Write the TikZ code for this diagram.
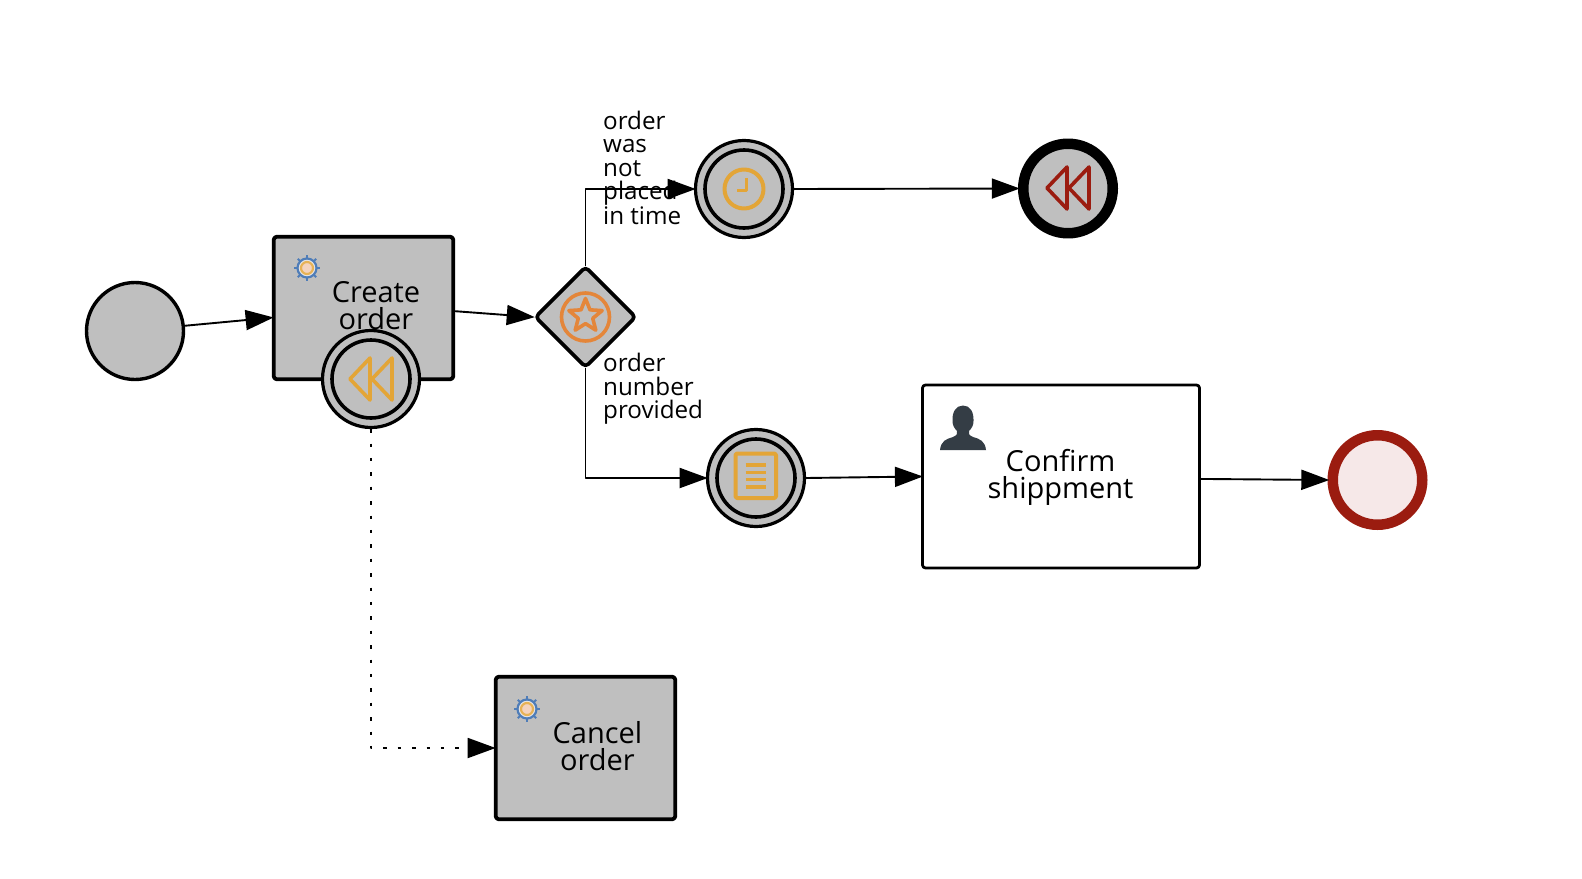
\documentclass[tikz,border=0pt]{standalone}
\usepackage{fontspec}
\setmainfont{Open Sans}
\usetikzlibrary{arrows.meta,shapes.geometric}
\definecolor{bpGray}{HTML}{BFBFBF}
\definecolor{bpGold}{HTML}{E3A537}
\definecolor{bpOrange}{HTML}{E4863A}
\definecolor{bpRed}{HTML}{9B1C10}
\definecolor{bpPink}{HTML}{F6E8E8}
\definecolor{bpSlate}{HTML}{343D45}
\definecolor{bpBlue}{HTML}{4F7DB8}
\tikzset{
 bpmn/.style={line join=round,text=black},
 task/.style={rectangle,draw=black,fill=bpGray,line width=3.8pt,rounded corners=3pt,inner sep=0pt,minimum width=179.5pt,minimum height=142.5pt},
 humantask/.style={task,fill=white,line width=2.8pt,minimum width=277pt,minimum height=183pt},
 tasktext/.style={font=\fontsize{29}{27}\selectfont,align=center,inner sep=0pt},
 flowlabel/.style={font=\fontsize{24.2}{23.5}\selectfont,align=left,anchor=west,inner sep=0pt},
 startevent/.style={circle,draw=black,fill=bpGray,line width=3.4pt,inner sep=0pt,minimum size=97pt},
 midevent/.style={startevent,line width=3.2pt},
 innerring/.style={circle,draw=black,line width=3.6pt,inner sep=0pt,minimum size=78pt},
 compevent/.style={startevent,line width=10.5pt,minimum size=89.5pt},
 endevent/.style={startevent,draw=bpRed,fill=bpPink,line width=10.5pt,minimum size=89.5pt},
 gateway/.style={diamond,aspect=1,draw=black,fill=bpGray,line width=3.6pt,rounded corners=4pt,inner sep=0pt,minimum size=101.5pt},
 flow/.style={draw=black,line width=1.9pt,shorten >=-1.8pt,-{Triangle[length=28pt,width=20pt]}},
 onflow/.style={flow,dash pattern=on 3.5pt off 10.9pt},
 icon/.style={line width=3.6pt,fill=none}
}
\newcommand{\compIcon}[3]{%
 \begin{scope}[shift={(#1,#2)}]
 \draw[icon,draw=#3] (-21,0)--(-1,-21)--(-1,21)--cycle;
 \draw[icon,draw=#3] (1,0)--(21,-21)--(21,21)--cycle;
 \end{scope}}
\newcommand{\gearIcon}[2]{%
 \begin{scope}[shift={(#1,#2)}]
 \foreach \ang in {0,45,...,315}
  \draw[bpBlue,line width=2pt] (\ang:9) -- (\ang:13);
 \draw[bpBlue,line width=2.2pt,fill=bpGray!40!white] (0,0) circle (9.5);
 \draw[bpGold!85!white,line width=2.2pt,fill=bpPink!60!bpOrange!70!white] (0,0) circle (6);
 \end{scope}}
\begin{document}
\begin{tikzpicture}[bpmn,x=1pt,y=-1pt]
 \useasboundingbox (0,0) rectangle (1582,878);
 \node[startevent] (orderStart) at (135,331) {};
 \node[task] (createOrder) at (363.5,308) {};
 \node[tasktext] (createText) at (376,305.5) {Create\\order};
 \gearIcon{307}{268}
 \node[task] (cancelOrder) at (585.5,748) {};
 \node[tasktext] (cancelText) at (597.5,746) {Cancel\\order};
 \gearIcon{527}{709}
 \node[humantask] (confirmShip) at (1061,476.5) {};
 \node[tasktext] (confirmText) at (1060.5,477.5) {Confirm\\shippment};
 \node[flowlabel] (lateLabel) at (603,167.5) {order\\was\\not\\placed\\in time};
 \node[flowlabel] (numberLabel) at (603,389) {order\\number\\provided};
 \node[gateway] (eventGate) at (585.5,317) {};
 \draw[bpOrange,icon] (585.5,317) circle (24);
 \node[star,star points=5,star point ratio=2.3,draw=bpOrange,line width=3.6pt,inner sep=0pt,minimum size=35pt] (gateStar) at (585.5,316) {};
 \node[midevent] (cancelBoundary) at (371,379) {};
 \node[innerring] (cancelRing) at (cancelBoundary) {};
 \compIcon{371}{379}{bpGold}
 \node[midevent] (timerEvent) at (744,189) {};
 \node[innerring] (timerRing) at (timerEvent) {};
 \draw[bpGold,icon,line width=4pt] (744,189) circle (19.5);
 \draw[bpGold,line width=3.4pt] (746.7,178.3)--(746.7,190.7)--(737.3,190.7);
 \node[midevent] (docEvent) at (756,478) {};
 \node[innerring] (docRing) at (docEvent) {};
 \draw[bpGold,icon,line width=4pt,rounded corners=1.5pt] (735.5,453.5) rectangle (776,498);
 \foreach \dy in {465,472.3,479.5,486.8}
  \draw[bpGold,line width=3.6pt] (745.5,\dy)--(766,\dy);
 \node[compevent] (cancelThrow) at (1068,188.5) {};
 \compIcon{1068}{188}{bpRed}
 \node[endevent] (orderEnd) at (1377.5,480) {};
 \fill[bpSlate] (940,450) .. controls (941,441) and (946,439) .. (953,437)
  .. controls (957,435.5) and (958,433) .. (957,431) .. controls (954,428) and (952.5,425) .. (952.5,421)
  .. controls (952,412) and (956,405.5) .. (963,405.5) .. controls (970,405.5) and (974,412) .. (973.5,421)
  .. controls (973.5,425) and (972,428) .. (969,431) .. controls (968,433) and (969,435.5) .. (973,437)
  .. controls (980,439) and (985,441) .. (986,450) -- cycle;
 \draw[flow] (orderStart.6) -- (createOrder.186);
 \draw[flow] (createOrder.-2) -- (eventGate.west);
 \draw[flow,shorten <=-2pt] (eventGate.north) |- (timerEvent.west);
 \draw[flow,shorten <=-2pt] (eventGate.south) |- (docEvent.west);
 \draw[flow] (timerEvent.east) -- (cancelThrow.west);
 \draw[flow] (docEvent.east) -- (confirmShip.180.6);
 \draw[flow] (confirmShip.-1) -- (orderEnd.west);
 \draw[onflow] (cancelBoundary.south) |- (cancelOrder.west);
\end{tikzpicture}
\end{document}
